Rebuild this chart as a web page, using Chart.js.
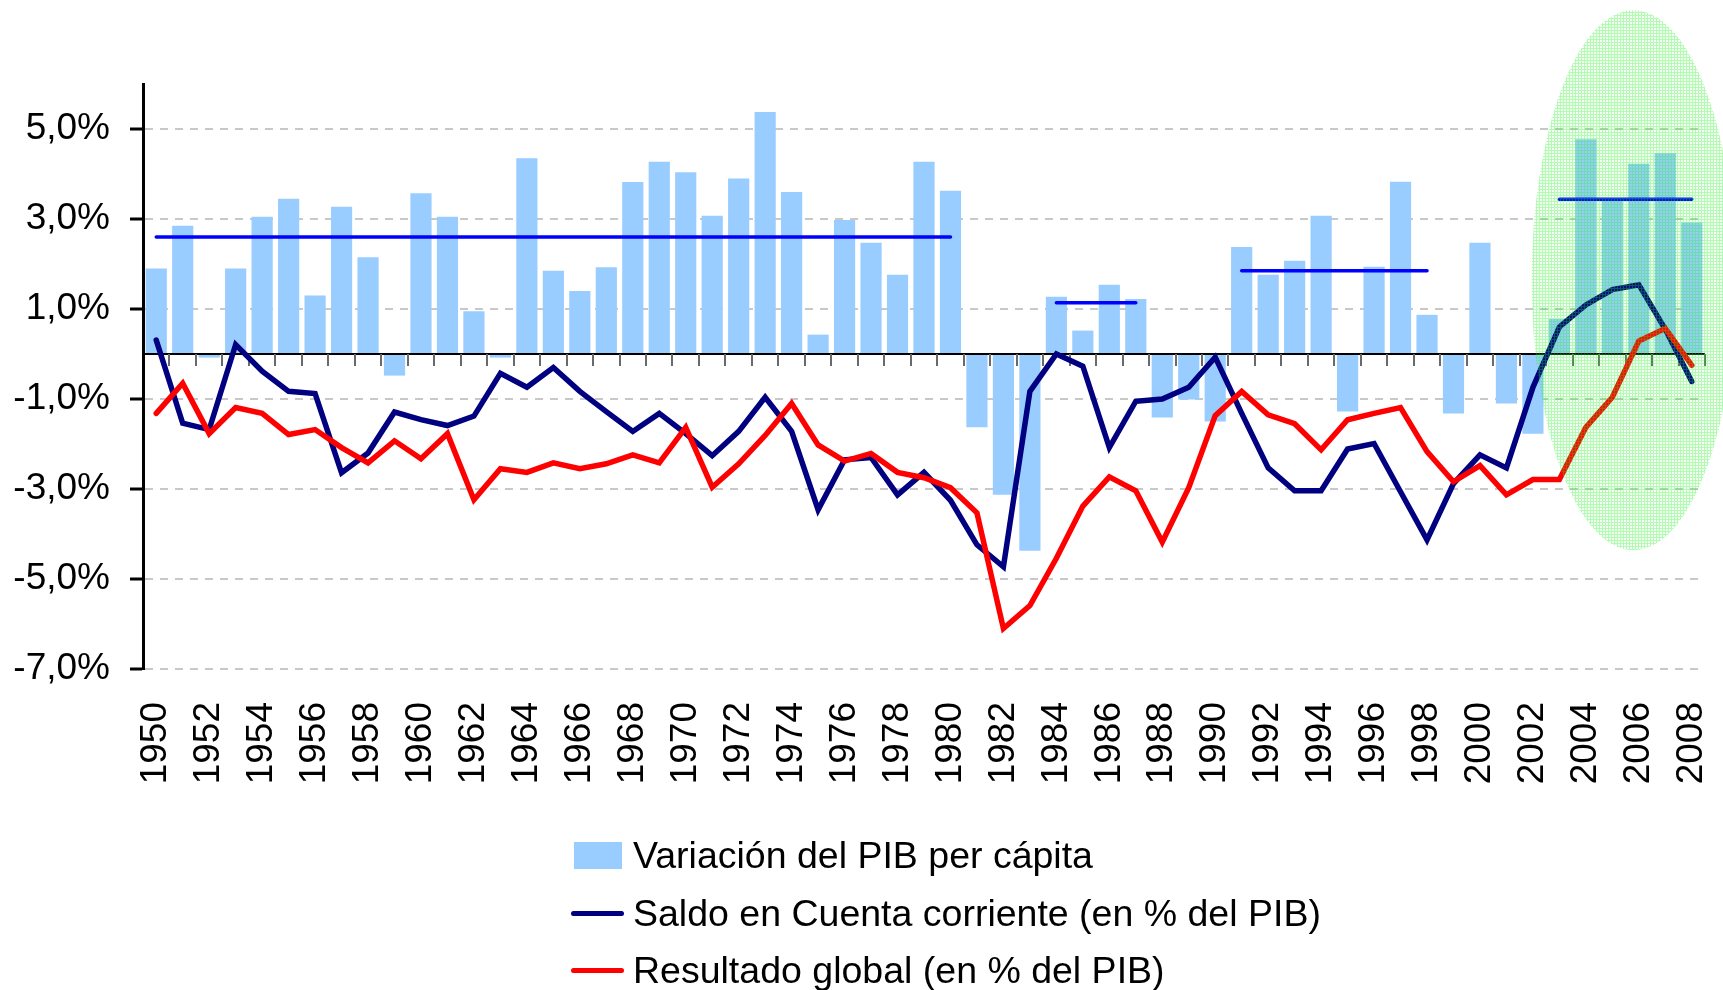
<!DOCTYPE html>
<html><head><meta charset="utf-8">
<script src="https://cdn.jsdelivr.net/npm/chart.js@4/dist/chart.umd.min.js"></script>
<style>
html,body{margin:0;padding:0;background:#fff;}
#wrap{position:relative;width:1723px;height:990px;overflow:hidden;background:#fff;}
#legend{position:absolute;left:0;top:0;font-family:"Liberation Sans",Arial,sans-serif;font-size:37.5px;color:#000;}
.item{position:absolute;left:571px;height:50px;display:flex;align-items:center;white-space:nowrap;}
.sw{width:53px;margin-right:9px;flex:none;}
</style></head><body>
<div id="wrap"><canvas id="c" width="1723" height="990"></canvas><div id="legend"></div></div>
<script>
const years = ['1950','1951','1952','1953','1954','1955','1956','1957','1958','1959',
  '1960','1961','1962','1963','1964','1965','1966','1967','1968','1969',
  '1970','1971','1972','1973','1974','1975','1976','1977','1978','1979',
  '1980','1981','1982','1983','1984','1985','1986','1987','1988','1989',
  '1990','1991','1992','1993','1994','1995','1996','1997','1998','1999',
  '2000','2001','2002','2003','2004','2005','2006','2007','2008'];
const pibPerCapita = [1.9,2.85,-0.08,1.9,3.05,3.45,1.3,3.27,2.15,-0.48,
  3.57,3.05,0.95,-0.08,4.35,1.85,1.4,1.93,3.82,4.27,
  4.04,3.07,3.9,5.38,3.6,0.43,2.98,2.47,1.76,4.27,
  3.63,-1.63,-3.13,-4.37,1.27,0.52,1.54,1.22,-1.41,-1.01,
  -1.5,2.38,1.76,2.07,3.07,-1.28,1.94,3.83,0.87,-1.32,
  2.47,-1.1,-1.77,0.78,4.77,3.42,4.23,4.46,2.92];
const cuentaCorriente = [0.31,-1.54,-1.68,0.21,-0.38,-0.83,-0.88,-2.64,-2.2,-1.29,
  -1.46,-1.59,-1.38,-0.43,-0.74,-0.3,-0.83,-1.28,-1.72,-1.32,
  -1.77,-2.26,-1.72,-0.96,-1.72,-3.46,-2.35,-2.3,-3.13,-2.63,
  -3.25,-4.24,-4.73,-0.83,0.0,-0.27,-2.08,-1.05,-1.0,-0.74,
  -0.07,-1.32,-2.53,-3.04,-3.04,-2.11,-1.99,-3.06,-4.13,-2.88,
  -2.24,-2.53,-0.74,0.6,1.09,1.43,1.54,0.55,-0.61];
const resultadoGlobal = [-1.32,-0.65,-1.77,-1.19,-1.32,-1.79,-1.68,-2.08,-2.42,-1.93,
  -2.33,-1.77,-3.24,-2.55,-2.63,-2.42,-2.55,-2.44,-2.24,-2.42,
  -1.63,-2.96,-2.44,-1.81,-1.1,-2.02,-2.38,-2.21,-2.63,-2.75,
  -2.97,-3.53,-6.1,-5.59,-4.54,-3.38,-2.73,-3.04,-4.18,-2.97,
  -1.37,-0.83,-1.35,-1.55,-2.13,-1.46,-1.32,-1.19,-2.17,-2.84,
  -2.48,-3.13,-2.79,-2.79,-1.63,-0.96,0.29,0.57,-0.25];
const avgStart = ['1950','1984','1991','2003'];
const avgEnd = ['1980','1987','1998','2008'];
const avgValue = [2.6,1.14,1.85,3.44];
const yTickValues = [-7,-5,-3,-1,1,3,5];
const seriesLabels = ['Variación del PIB per cápita','Saldo en Cuenta corriente (en % del PIB)','Resultado global (en % del PIB)'];
const seriesColors = ['#99CCFF','#000080','#FF0000'];

// average segments: value inside each period, gaps elsewhere
const avgData = years.map(yr => {
  for (let k = 0; k < avgStart.length; k++) {
    if (yr >= avgStart[k] && yr <= avgEnd[k]) return avgValue[k];
  }
  return null;
});

const FONT = '"Liberation Sans", Arial, sans-serif';
Chart.defaults.font.family = FONT;
Chart.defaults.color = '#000';

// hatched green pattern for the highlight ellipse
const tile = document.createElement('canvas'); tile.width = 3; tile.height = 3;
const tc = tile.getContext('2d');
tc.fillStyle = 'rgba(60,255,60,0.06)'; tc.fillRect(0,0,3,3);
tc.fillStyle = 'rgba(30,240,30,0.30)'; tc.fillRect(0,0,3,1); tc.fillRect(0,1,1,2);

const overlay = {
  id: 'overlay',
  afterDatasetDraw(chart, args) {
    if (args.index !== 0) return;
    const {ctx, chartArea: a, scales: {x, y}} = chart;
    const y0 = Math.round(y.getPixelForValue(0));
    ctx.save();
    ctx.strokeStyle = '#000'; ctx.lineWidth = 2;
    ctx.beginPath(); ctx.moveTo(a.left, y0); ctx.lineTo(a.right, y0); ctx.stroke();
    ctx.strokeStyle = '#6a6a6a'; ctx.lineWidth = 2;
    for (let i = 1; i <= years.length; i++) {
      const px = Math.round(x.getPixelForValue(i - 0.5));
      ctx.beginPath(); ctx.moveTo(px, y0); ctx.lineTo(px, y0 + 12); ctx.stroke();
    }
    ctx.restore();
  },
  afterDraw(chart) {
    const {ctx, scales: {x, y}} = chart;
    const cw = x.getPixelForValue(1) - x.getPixelForValue(0);
    const cx = x.getPixelForValue(55.8);
    const cy = y.getPixelForValue(1.64);
    const rx = cw * 3.85;
    const ry = y.getPixelForValue(1.64 - 6.0) - cy;
    ctx.save();
    ctx.fillStyle = ctx.createPattern(tile, 'repeat');
    ctx.beginPath(); ctx.ellipse(cx, cy, rx, ry, 0, 0, Math.PI * 2); ctx.fill();
    ctx.restore();
  }
};

new Chart(document.getElementById('c'), {
  data: {
    labels: years,
    datasets: [
      {type: 'bar', label: seriesLabels[0], data: pibPerCapita, backgroundColor: seriesColors[0],
       barPercentage: 0.8, categoryPercentage: 1.0, order: 3},
      {type: 'line', label: 'promedio', data: avgData, borderColor: '#0000FF', borderWidth: 3.5,
       pointRadius: 0, spanGaps: false, borderCapStyle: 'round', order: 2},
      {type: 'line', label: seriesLabels[1], data: cuentaCorriente, borderColor: seriesColors[1], borderWidth: 5.5,
       pointRadius: 0, tension: 0, borderCapStyle: 'round', order: 1},
      {type: 'line', label: seriesLabels[2], data: resultadoGlobal, borderColor: seriesColors[2], borderWidth: 5.5,
       pointRadius: 0, tension: 0, borderCapStyle: 'round', order: 0}
    ]
  },
  options: {
    responsive: false, animation: false, devicePixelRatio: 1,
    layout: {padding: {top: 84, right: 18, left: 0, bottom: 0}},
    plugins: {legend: {display: false}, tooltip: {enabled: false}},
    scales: {
      x: {
        offset: true,
        grid: {display: false, drawTicks: false},
        border: {display: false},
        ticks: {
          autoSkip: false, minRotation: 90, maxRotation: 90, padding: 33,
          font: {size: 37, family: FONT}, color: '#000',
          callback: (v, i) => (i % 2 === 0 ? years[i] : '')
        },
        afterFit: s => { s.height = 321; s.paddingLeft = 0; s.paddingRight = 0; }
      },
      y: {
        min: -7, max: 6,
        afterBuildTicks: s => { s.ticks = yTickValues.map(v => ({value: v})); },
        afterFit: s => { s.width = 143; s.paddingTop = 0; s.paddingBottom = 0; },
        grid: {color: '#c8c8c8', lineWidth: 2, drawTicks: true,
               tickLength: 13, tickColor: '#000', tickWidth: 3, tickBorderDash: []},
        border: {display: true, color: '#000', width: 3, dash: [8, 7]},
        ticks: {
          padding: 20, font: {size: 37, family: FONT}, color: '#000',
          callback: v => v.toFixed(1).replace('.', ',') + '%'
        }
      }
    }
  },
  plugins: [overlay]
});

// legend (vertical list, bottom centre)
const leg = document.getElementById('legend');
const rowCenters = [855, 913, 970];
seriesLabels.forEach((lab, i) => {
  const it = document.createElement('div');
  it.className = 'item';
  it.style.top = (rowCenters[i] - 25) + 'px';
  const sw = document.createElement('div');
  sw.className = 'sw';
  if (i === 0) { sw.style.height = '27px'; sw.style.background = seriesColors[0]; sw.style.marginLeft = '3px'; sw.style.width = '48px'; sw.style.marginRight = '11px'; }
  else { sw.style.height = '5px'; sw.style.background = seriesColors[i]; sw.style.borderRadius = '3px'; }
  const tx = document.createElement('span');
  tx.textContent = lab;
  it.appendChild(sw); it.appendChild(tx);
  leg.appendChild(it);
});
</script>
</body></html>
